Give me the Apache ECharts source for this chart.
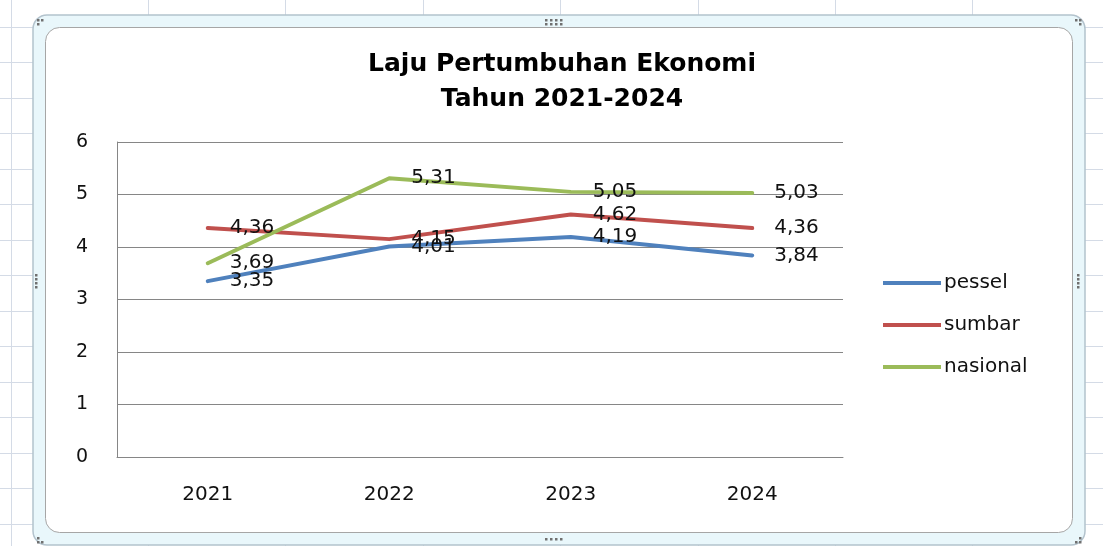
<!DOCTYPE html>
<html>
<head>
<meta charset="utf-8">
<script src="https://cdn.jsdelivr.net/npm/echarts@6/dist/echarts.min.js"></script>
<style>
  html, body { margin: 0; padding: 0; background: #fff; }
  #chart { width: 1103px; height: 546px; }
</style>
</head>
<body>
<div id="chart"></div>
<script>
// data
const years = ['2021', '2022', '2023', '2024']
const pessel = [3.35, 4.01, 4.19, 3.84]
const sumbar = [4.36, 4.15, 4.62, 4.36]
const nasional = [3.69, 5.31, 5.05, 5.03]
const seriesNames = ['pessel', 'sumbar', 'nasional']
const seriesColors = ['#4f81bd', '#c0504d', '#9bbb59']

const chart = echarts.init(document.getElementById('chart'))

// spreadsheet background + chart frame (decoration only)
const bg = []
const sheetLine = '#d4dbe6'
for (let x = 10.5; x < 1103; x += 137.4) {
  bg.push({ type: 'line', shape: { x1: Math.round(x) + 0.5, y1: 0, x2: Math.round(x) + 0.5, y2: 546 }, style: { stroke: sheetLine, lineWidth: 1 }, z: -10 })
}
for (let y = 26.5; y < 546; y += 35.5) {
  bg.push({ type: 'line', shape: { x1: 0, y1: Math.round(y) + 0.5, x2: 1103, y2: Math.round(y) + 0.5 }, style: { stroke: sheetLine, lineWidth: 1 }, z: -10 })
}
bg.push({ type: 'rect', shape: { x: 33, y: 15, width: 1052, height: 530, r: 14 }, style: { fill: '#e9f7fb', stroke: '#b3c3cd', lineWidth: 1.5 }, z: -9 })
bg.push({ type: 'rect', shape: { x: 45.5, y: 27.5, width: 1027, height: 505, r: 14 }, style: { fill: '#ffffff', stroke: '#a6a6a6', lineWidth: 1 }, z: -8 })
// little resize handles
const dots = [
  [37, 19], [41, 19], [37, 23],
  [545, 19], [550, 19], [555, 19], [560, 19], [545, 23], [550, 23], [555, 23], [560, 23],
  [1075, 19], [1079, 19], [1079, 23],
  [35, 274], [35, 278], [35, 282], [35, 286],
  [1077, 274], [1077, 278], [1077, 282], [1077, 286],
  [37, 537], [37, 541], [41, 541],
  [545, 538], [550, 538], [555, 538], [560, 538],
  [1079, 537], [1079, 541], [1075, 541]
]
dots.forEach(d => {
  bg.push({ type: 'rect', shape: { x: d[0], y: d[1], width: 2.5, height: 2.5 }, style: { fill: '#707070' }, z: -7 })
})

const makeSeries = (name, data, color) => ({
  name: name,
  type: 'line',
  data: data,
  symbol: 'circle',
  symbolSize: 2,
  showSymbol: true,
  lineStyle: { color: color, width: 4, cap: 'round', join: 'round' },
  itemStyle: { color: color },
  label: {
    show: true,
    position: 'right',
    distance: 21,
    offset: [0, 3],
    color: '#111',
    fontFamily: 'DejaVu Sans',
    fontSize: 20,
    formatter: p => String(p.value).replace('.', ',')
  },
  labelLayout: { hideOverlap: false },
  emphasis: { disabled: true }
})

const option = {
  animation: false,
  backgroundColor: 'transparent',
  graphic: bg,
  title: {
    text: 'Laju Pertumbuhan Ekonomi\nTahun 2021-2024',
    left: 557,
    textAlign: 'center',
    top: 42,
    textStyle: {
      fontFamily: 'DejaVu Sans',
      fontWeight: 'bold',
      fontSize: 25,
      lineHeight: 35,
      color: '#000'
    }
  },
  legend: {
    orient: 'vertical',
    left: 883,
    top: 273,
    padding: 0,
    itemWidth: 58,
    itemHeight: 4,
    itemGap: 22,
    icon: 'rect',
    data: seriesNames,
    textStyle: { fontFamily: 'DejaVu Sans', fontSize: 20, lineHeight: 20, color: '#111', padding: [0, 0, 0, -2] }
  },
  grid: { left: 117, right: 260, top: 142, bottom: 89 },
  xAxis: {
    type: 'category',
    data: years,
    boundaryGap: true,
    axisTick: { show: false },
    axisLine: { lineStyle: { color: '#868686', width: 1 } },
    axisLabel: { margin: 28, color: '#111', fontFamily: 'DejaVu Sans', fontSize: 20 }
  },
  yAxis: {
    type: 'value',
    min: 0,
    max: 6,
    interval: 1,
    axisTick: { show: false },
    axisLine: { show: true, lineStyle: { color: '#868686', width: 1 } },
    splitLine: { lineStyle: { color: '#868686', width: 1 } },
    axisLabel: { margin: 29, color: '#111', fontFamily: 'DejaVu Sans', fontSize: 19 }
  },
  series: [
    makeSeries(seriesNames[0], pessel, seriesColors[0]),
    makeSeries(seriesNames[1], sumbar, seriesColors[1]),
    makeSeries(seriesNames[2], nasional, seriesColors[2])
  ]
}

chart.setOption(option)
</script>
</body>
</html>
